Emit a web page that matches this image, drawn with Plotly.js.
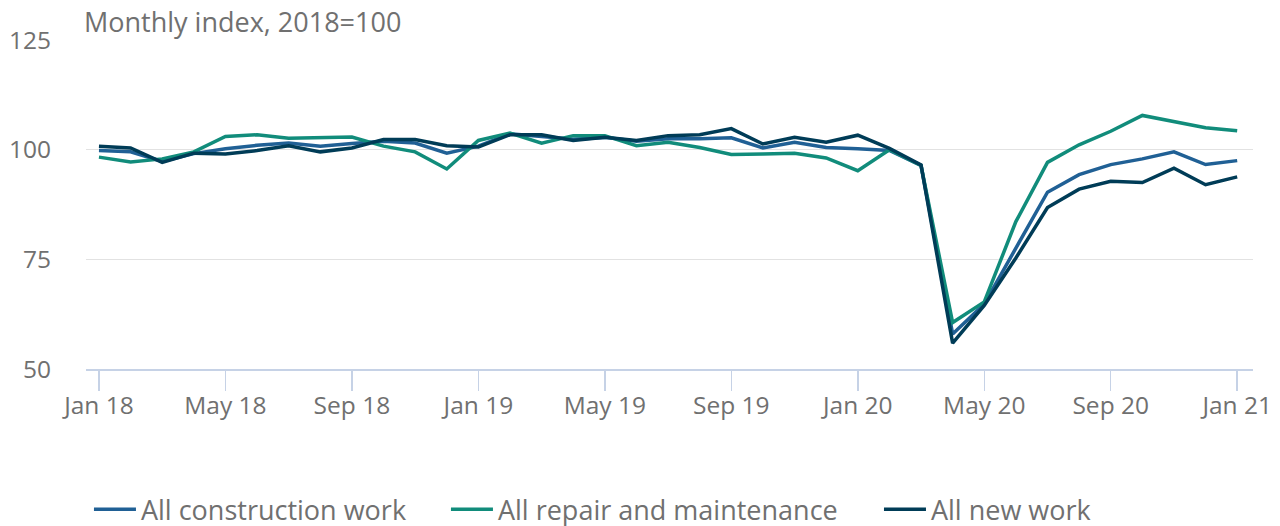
<!DOCTYPE html>
<html>
<head>
<meta charset="utf-8">
<script src="https://cdn.plot.ly/plotly-3.0.1.min.js"></script>
<style>html,body{margin:0;padding:0;background:#fff;}#chart{width:1280px;height:526px;}</style>
</head>
<body>
<div id="chart"></div>
<script>
const months = ["Jan 18","Feb 18","Mar 18","Apr 18","May 18","Jun 18","Jul 18","Aug 18","Sep 18","Oct 18","Nov 18","Dec 18",
  "Jan 19","Feb 19","Mar 19","Apr 19","May 19","Jun 19","Jul 19","Aug 19","Sep 19","Oct 19","Nov 19","Dec 19",
  "Jan 20","Feb 20","Mar 20","Apr 20","May 20","Jun 20","Jul 20","Aug 20","Sep 20","Oct 20","Nov 20","Dec 20","Jan 21"];
const tickLabels = ["Jan 18","May 18","Sep 18","Jan 19","May 19","Sep 19","Jan 20","May 20","Sep 20","Jan 21"];
const yTicks = [50, 75, 100, 125];

const allConstruction = [99.8, 99.5, 97.3, 99.1, 100.2, 101.0, 101.5, 100.8, 101.4, 101.9, 101.5, 99.2,
  100.8, 103.6, 103.0, 102.4, 102.8, 101.9, 102.5, 102.5, 102.7, 100.4, 101.7, 100.5,
  100.2, 99.8, 96.4, 58.0, 64.8, 77.6, 90.3, 94.3, 96.6, 97.9, 99.5, 96.6, 97.5];
const repairMaintenance = [98.3, 97.2, 97.9, 99.5, 103.0, 103.4, 102.6, 102.7, 102.9, 100.8, 99.5, 95.6,
  102.1, 103.8, 101.5, 103.2, 103.2, 100.9, 101.7, 100.5, 98.9, 99.0, 99.2, 98.1,
  95.2, 100.0, 96.4, 60.6, 65.3, 83.6, 97.1, 101.1, 104.2, 107.8, 106.3, 105.0, 104.3];
const newWork = [100.8, 100.4, 97.1, 99.2, 99.0, 99.8, 100.9, 99.5, 100.4, 102.3, 102.3, 100.9,
  100.6, 103.4, 103.4, 102.1, 102.8, 102.1, 103.2, 103.4, 104.8, 101.3, 102.8, 101.7,
  103.3, 100.3, 96.5, 55.9, 64.5, 75.3, 86.8, 91.0, 92.8, 92.5, 95.8, 92.0, 93.8];

const seriesNames = ["All construction work", "All repair and maintenance", "All new work"];
const seriesColors = ["#206095", "#118c7b", "#003c57"];
const seriesData = [allConstruction, repairMaintenance, newWork];
const legendIds = ["legend", "legend2", "legend3"];
const legendX = [0.0695, 0.3484, 0.6867];

const traces = seriesData.map((d, i) => ({
  type: "scatter", mode: "lines", x: months, y: d, name: seriesNames[i], legend: legendIds[i],
  line: {color: seriesColors[i], width: 3.5}, hoverinfo: "skip"
}));

const textColor = "#707070";
const layout = {
  width: 1280, height: 526,
  margin: {l: 86, r: 27, t: 40, b: 157, autoexpand: false},
  paper_bgcolor: "#fff", plot_bgcolor: "#fff",
  font: {family: "Open Sans, sans-serif", color: textColor, size: 24},
  showlegend: true,
  xaxis: {type: "category", range: [-0.41, 36.5], tickmode: "array", tickvals: tickLabels, ticktext: tickLabels,
    showgrid: false, showline: true, linecolor: "#c6d2e6", linewidth: 1.5,
    ticks: "outside", ticklen: 20, tickwidth: 1.5, tickcolor: "#c6d2e6", ticklabelstandoff: -6,
    tickfont: {size: 24.5, color: textColor}, zeroline: false, fixedrange: true, automargin: false},
  yaxis: {range: [50, 125], tickmode: "array", tickvals: yTicks,
    showgrid: true, gridcolor: "#e2e2e2", gridwidth: 1.5, zeroline: false, showline: false,
    ticks: "", ticklabelstandoff: 34, tickfont: {size: 24.5, color: textColor}, fixedrange: true, automargin: false},
  annotations: [{xref: "paper", yref: "paper", x: 0, y: 1, xanchor: "left", yanchor: "bottom", yshift: -2, xshift: -4,
    text: "Monthly index, 2018=100", showarrow: false, font: {size: 27, color: textColor}}]
};
legendIds.forEach((id, i) => {
  layout[id] = {orientation: "h", xref: "container", x: legendX[i], xanchor: "left",
    yref: "container", y: 0.031, yanchor: "middle", bgcolor: "rgba(0,0,0,0)",
    font: {size: 27, color: textColor}, itemwidth: 42};
});

Plotly.newPlot("chart", traces, layout, {displayModeBar: false, staticPlot: true});
</script>
</body>
</html>
